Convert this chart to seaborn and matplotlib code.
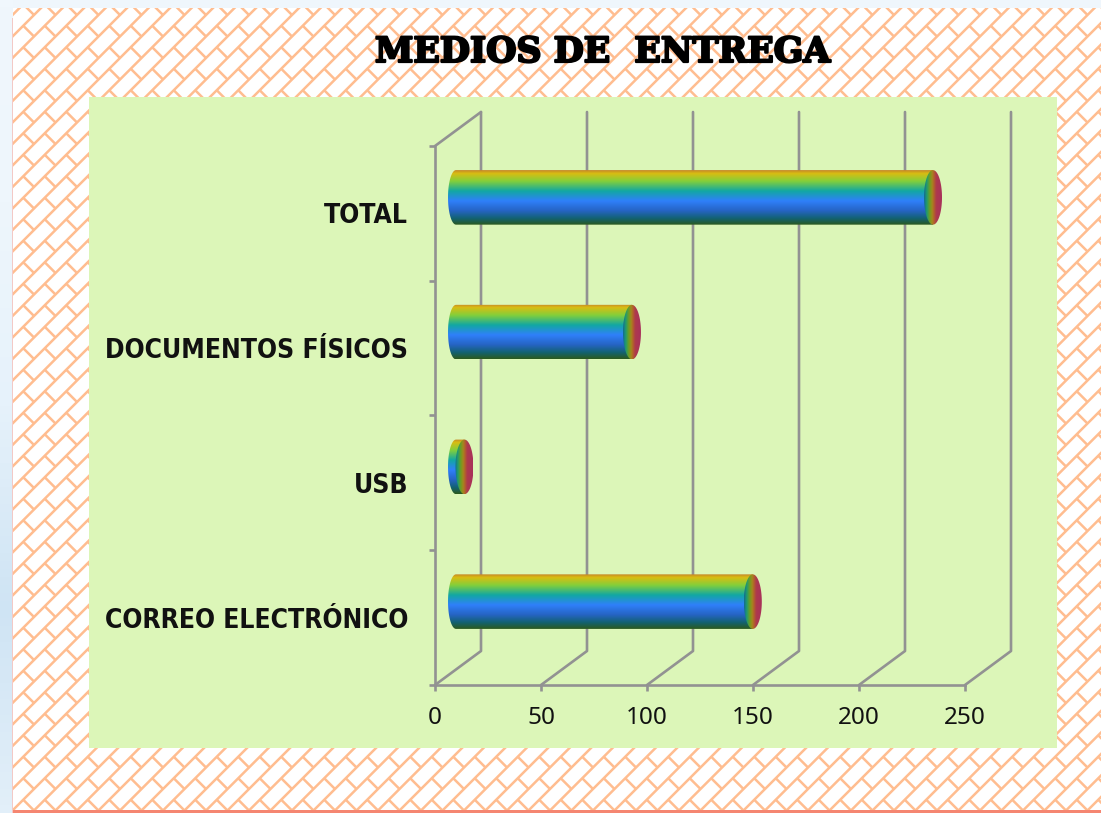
import numpy as np
import pandas as pd
import matplotlib
matplotlib.use("Agg")
import matplotlib.pyplot as plt
import seaborn as sns
from matplotlib.collections import LineCollection
from matplotlib.colors import LinearSegmentedColormap
from matplotlib.lines import Line2D
from matplotlib.patches import PathPatch, Rectangle
from matplotlib.path import Path
from matplotlib.transforms import Affine2D
import matplotlib.patheffects as pe

# Chart values
categories = ["TOTAL", "DOCUMENTOS FÍSICOS", "USB", "CORREO ELECTRÓNICO"]
values = [225, 83, 4, 140]
x_ticks = [0, 50, 100, 150, 200, 250]
title = "MEDIOS DE  ENTREGA"

W, H = 1101, 813
GRAY = "#929292"

sns.set_theme(style="white")
plt.rcParams["font.family"] = ["Noto Sans", "DejaVu Sans"]

fig = plt.figure(figsize=(W / 100, H / 100), dpi=100, facecolor="#eff6fc")

# Page background in pixel coordinates
bg = fig.add_axes([0, 0, 1, 1], zorder=0)
bg.set_xlim(0, W)
bg.set_ylim(H, 0)
bg.axis("off")

side = LinearSegmentedColormap.from_list("side", ["#f0f7fd", "#eef6fc", "#e6f2fb", "#cfe4f4", "#e2eff9"])
bg.imshow(np.linspace(0, 1, 100).reshape(-1, 1), cmap=side, extent=(0, 13, H, 0), aspect="auto", zorder=0)
bg.add_patch(Rectangle((13, 8), W - 13, 802, fc="white", ec="none", zorder=1))
bg.add_patch(Rectangle((11.5, 18), 1.5, 795, fc="#f3c9c6", ec="none", zorder=1))

# Brick pattern on the page
step = 21.5
long_lines = []
short_lines = []
for k in range(-2, 100):
    c = k * step + 6
    long_lines.append([(c + 900, -900), (c - 900, 900)])
    for m in range(-60, 60):
        sx = c + m * step - 4.25
        sy = -m * step + 4.25
        short_lines.append([(sx, sy), (sx + step / 2, sy + step / 2)])
clip = Rectangle((13, 8), W - 13, 802, transform=bg.transData)
for segs in (long_lines, short_lines):
    lc = LineCollection(segs, colors="#ffbd90", linewidths=1.8, zorder=2)
    bg.add_collection(lc)
    lc.set_clip_path(clip)
bg.add_patch(Rectangle((13, 810), W - 13, 3, fc="#f58671", ec="none", zorder=3))
bg.add_patch(Rectangle((89, 97), 968, 651, fc="#dcf6b8", ec="none", zorder=4))

bg.text(603, 52, title, ha="center", va="center", fontsize=25, fontweight="bold",
        family="DejaVu Serif", color="black", zorder=5,
        path_effects=[pe.withStroke(linewidth=1.6, foreground="black")])

# Plot axes: 0 to 250 covers px 435-965, categories cover px 146-685
ax = fig.add_axes([435 / W, 1 - 685 / H, 530 / W, 539 / H], zorder=1)
ax.patch.set_alpha(0)

df = pd.DataFrame({"medio": categories, "valor": values})
sns.barplot(data=df, x="valor", y="medio", order=categories, orient="h", width=0.405,
            color="#2f7cf8", ax=ax)
ax.set_xlim(0, 250)
ax.set_ylim(3.5, -0.5)
ax.set_xlabel("")
ax.set_ylabel("")

for s in ["top", "right"]:
    ax.spines[s].set_visible(False)
for s in ["left", "bottom"]:
    ax.spines[s].set_color(GRAY)
    ax.spines[s].set_linewidth(1.9)

ax.set_xticks(x_ticks)
ax.set_yticks(np.arange(-0.5, 4, 1), minor=True)
ax.tick_params(axis="x", length=4, width=1.9, color=GRAY, labelsize=17.5, pad=11, labelcolor="#111111", bottom=True)
ax.tick_params(axis="y", which="major", length=0, pad=19.5, labelsize=19, labelcolor="#111111")
ax.tick_params(axis="y", which="minor", length=4, width=1.9, color=GRAY, left=True)
for lab in ax.get_yticklabels():
    lab.set_family("DejaVu Sans")
    lab.set_fontweight("bold")
    lab.set_fontstretch("condensed")

# Back wall and floor of the 3D box
DX, DY = 46, 34
to_px = ax.transData.transform
for t in x_ticks:
    (x0, y0), (x1, y1) = to_px([(t, 3.5), (t, -0.5)])
    fig.add_artist(Line2D([x0, x0 + DX, x1 + DX], [y0, y0 + DY, y1 + DY], color=GRAY, lw=1.9,
                          transform=None, zorder=0.5))
(x0, y0) = to_px((0, -0.5))
fig.add_artist(Line2D([x0, x0 + DX], [y0, y0 + DY], color=GRAY, lw=1.9, transform=None, zorder=0.5))

# Bars: read the geometry from seaborn, paint it as shaded cylinders
body_cmap = LinearSegmentedColormap.from_list("body", [
    (0.0, "#c5842a"), (0.06, "#d9bd12"), (0.20, "#84cf3a"), (0.38, "#12a8a2"),
    (0.56, "#2f80fa"), (0.74, "#2664c4"), (0.88, "#126272"), (1.0, "#2c5a1c")])
cap_cmap = LinearSegmentedColormap.from_list("cap", [
    (0.0, "#126a90"), (0.15, "#1f9a70"), (0.32, "#6d9e22"), (0.46, "#a5861e"),
    (0.56, "#b2602c"), (0.68, "#ae3a4c"), (1.0, "#a8305c")])

shift = Affine2D().translate(21, 16)
data_shift = ax.transData + shift
px_per_unit = 530 / 250
theta = np.linspace(np.pi / 2, 3 * np.pi / 2, 40)
full = np.linspace(0, 2 * np.pi, 80)
grad = np.linspace(0, 1, 256)

for bar in ax.patches:
    x, y, w, h = bar.get_x(), bar.get_y(), bar.get_width(), bar.get_height()
    bar.set_visible(False)
    cy = y + h / 2
    rx = 8 / px_per_unit
    px = x + rx * np.cos(theta)
    py = cy - h / 2 * np.sin(theta)
    verts = np.vstack([np.column_stack([px, py]), [(x + w, y + h), (x + w, y), (px[0], py[0])]])
    body_clip = PathPatch(Path(verts), transform=data_shift, fc="none", ec="none")
    ax.add_patch(body_clip)
    im = ax.imshow(grad.reshape(-1, 1), cmap=body_cmap, aspect="auto",
                   extent=(x - rx, x + w, y + h, y), zorder=3, transform=data_shift)
    im.set_clip_path(body_clip)

    capx = 9 / px_per_unit
    cx = x + w
    cap_clip = PathPatch(Path(np.column_stack([cx + capx * np.cos(full), cy + h / 2 * np.sin(full)])),
                         transform=data_shift, fc="none", ec="none")
    ax.add_patch(cap_clip)
    im2 = ax.imshow(grad.reshape(1, -1), cmap=cap_cmap, aspect="auto",
                    extent=(cx - capx, cx + capx, y + h, y), zorder=4, transform=data_shift)
    im2.set_clip_path(cap_clip)

ax.set_xlim(0, 250)
ax.set_ylim(3.5, -0.5)

fig.savefig("out.png", dpi=100, facecolor=fig.get_facecolor())
